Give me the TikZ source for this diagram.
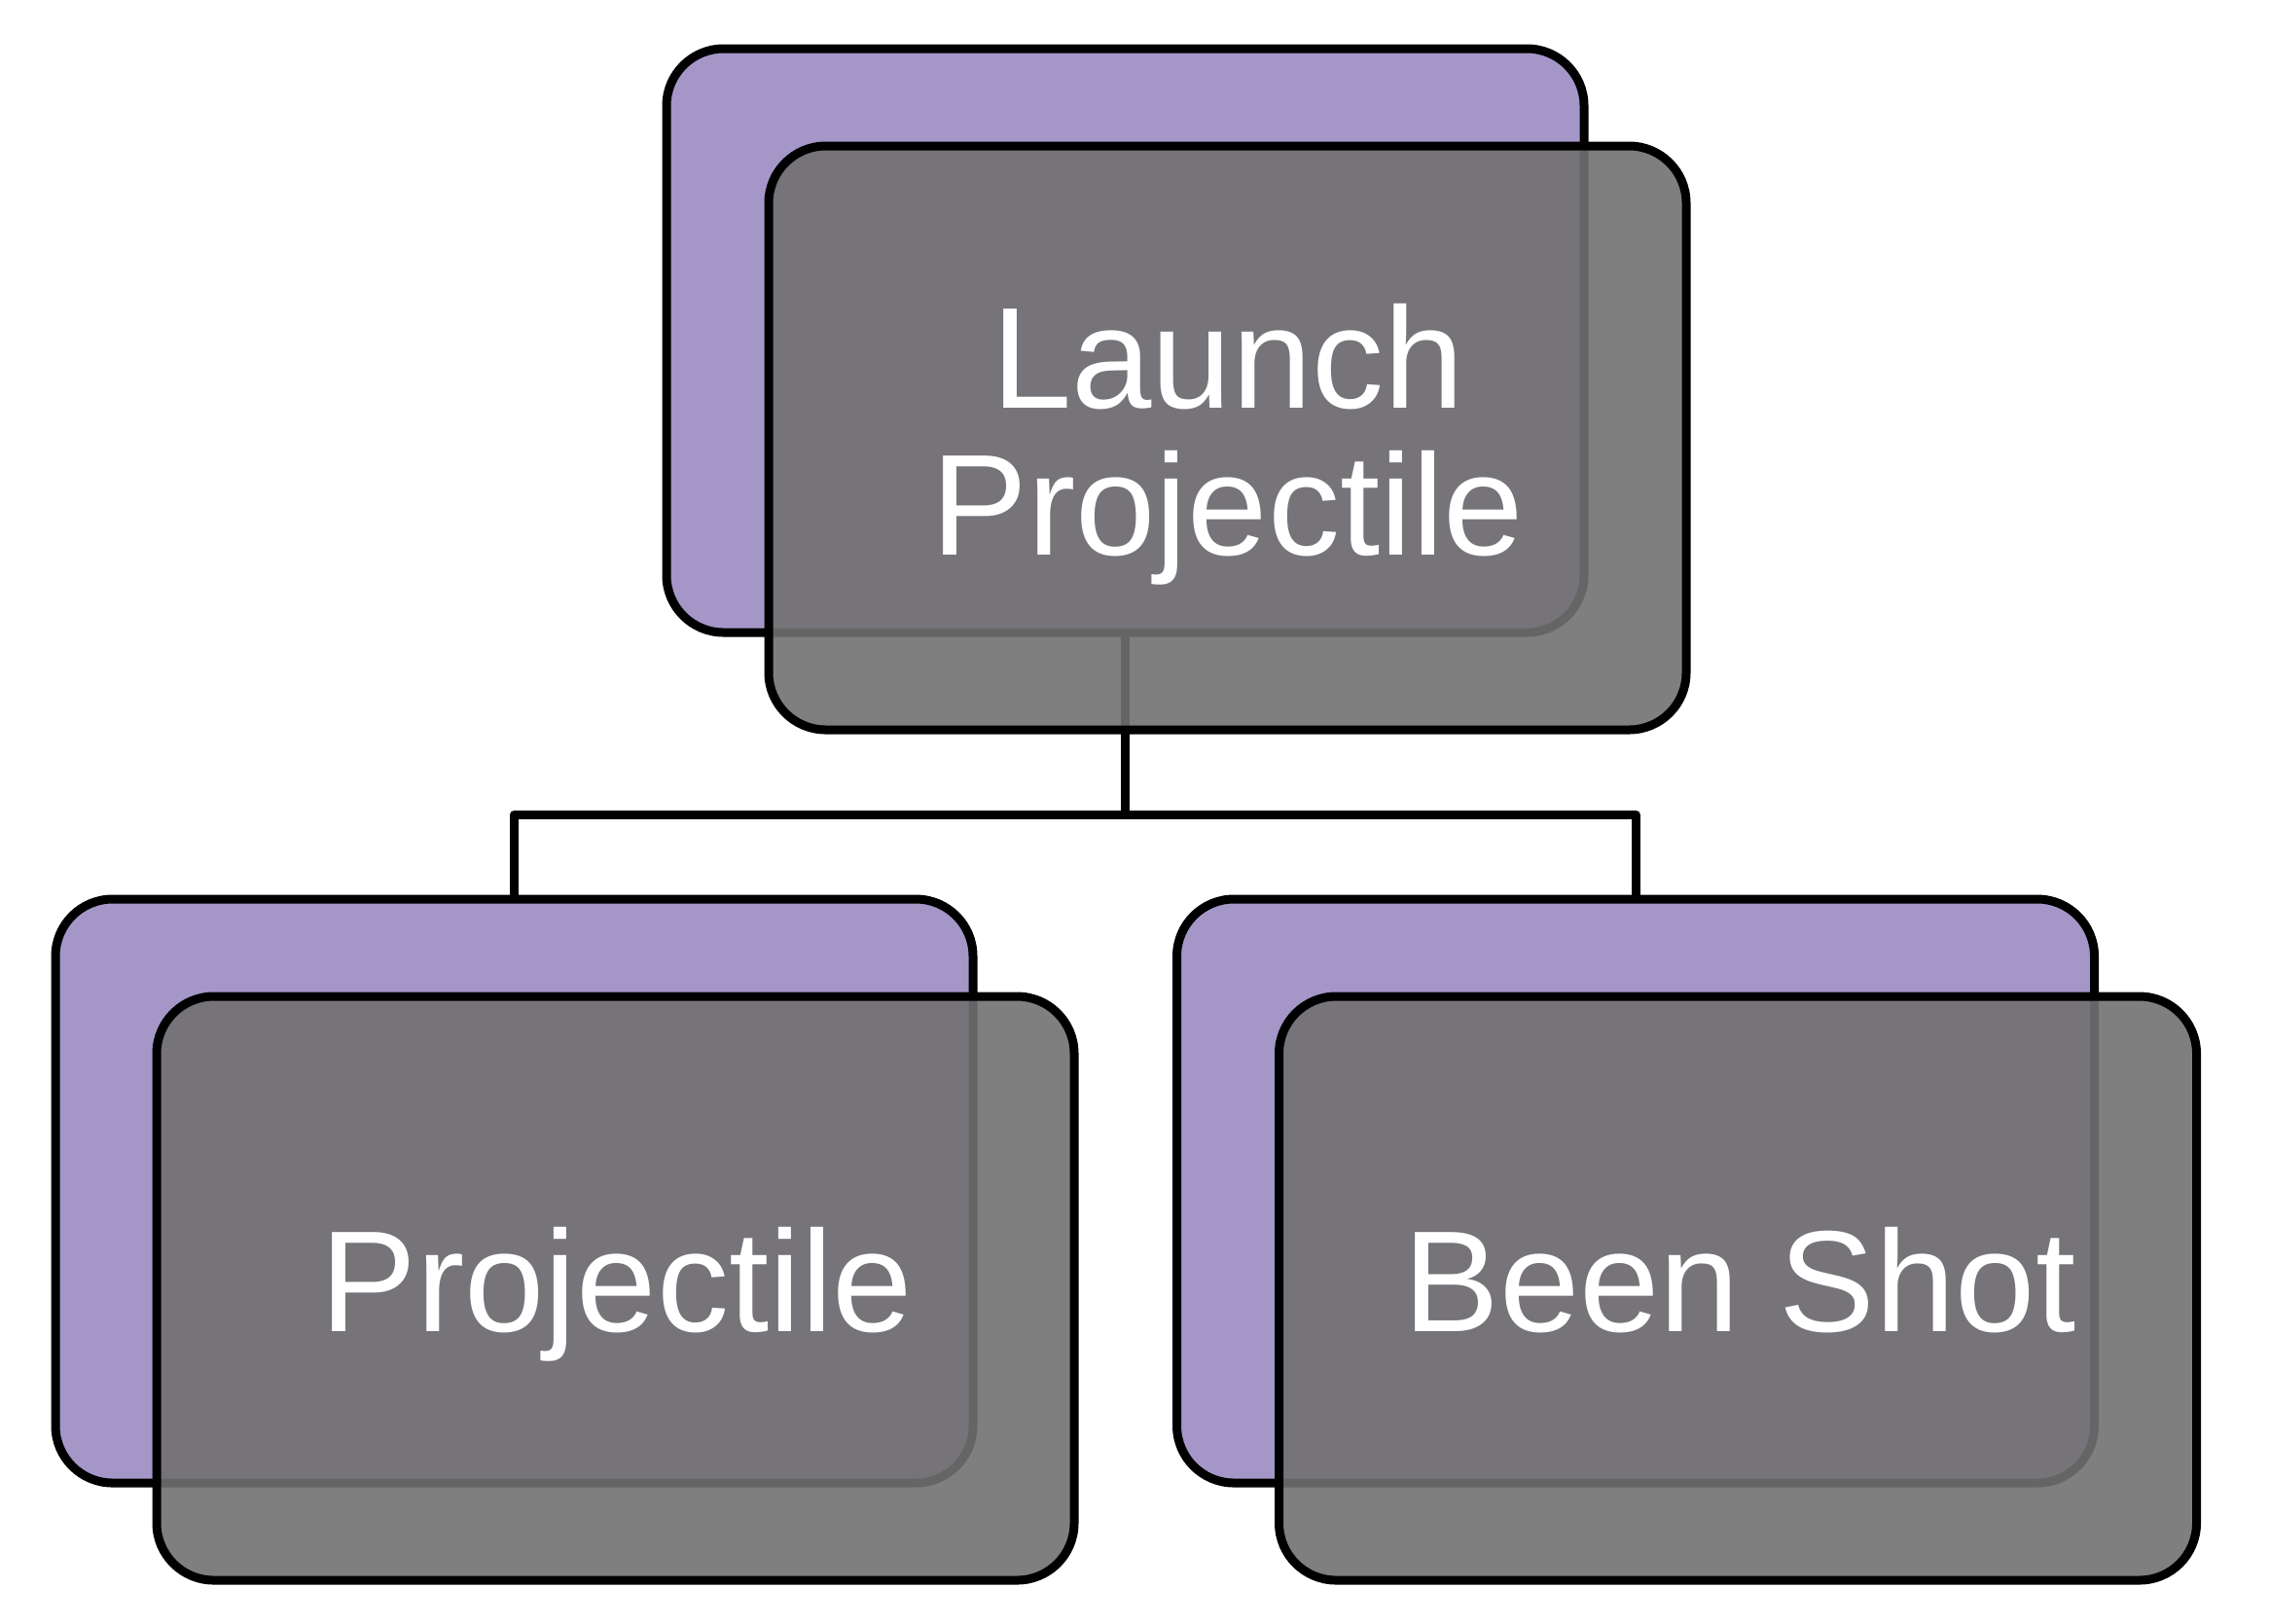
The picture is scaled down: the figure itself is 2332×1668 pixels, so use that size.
\documentclass[tikz,border=0pt]{standalone}
\usepackage{fontspec}
\setmainfont{Liberation Sans}
\definecolor{boxpurple}{RGB}{164,151,200}
\definecolor{boxgray}{RGB}{113,113,113}
\pgfdeclarelayer{bg}
\pgfsetlayers{bg,main}
\tikzset{
  backbox/.style={draw=black, line width=2.7pt, fill=boxpurple, rounded corners=17.6pt,
    minimum width=282.9pt, minimum height=180pt, inner sep=0pt, outer sep=0pt},
  frontbox/.style={backbox, fill=boxgray, fill opacity=0.9},
  lbl/.style={text=white, font=\fontsize{44.4}{45.1}\selectfont, align=center, inner sep=0pt},
  link/.style={draw=black, line width=2.7pt, line join=round}
}
\begin{document}
\begin{tikzpicture}[x=0.3pt,y=-0.3pt]
\useasboundingbox (0,0) rectangle (2332,1668);
% parent
\node[backbox] (p0) at (1156.5,350) {};
\node[frontbox] (g0) at (1261.5,450) {};
% children
\node[backbox] (p1) at (528.5,1224) {};
\node[frontbox] (g1) at (632.5,1324) {};
\node[backbox] (p2) at (1681,1224) {};
\node[frontbox] (g2) at (1786,1324) {};
% labels
\node[lbl] (t0) at (1262,456.7) {Launch\\Projectile};
\node[lbl, anchor=base] (t1) at (634,1368) {Projectile};
\node[lbl, anchor=base] (t2) at (1788,1368) {Been Shot};
% connectors
\begin{pgfonlayer}{bg}
\coordinate (j) at (1156.5,837);
\draw[link] (p0.north) -- (j) -| (p1.north);
\draw[link] (j) -| (p2.north);
\end{pgfonlayer}
\end{tikzpicture}
\end{document}
